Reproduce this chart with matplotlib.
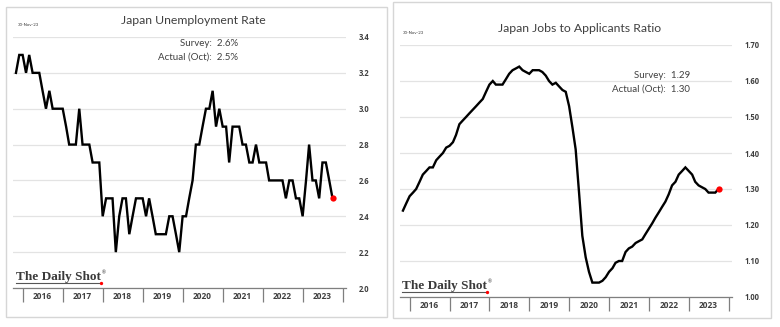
import matplotlib.pyplot as plt
import pandas as pd
from matplotlib.patches import Rectangle
from matplotlib.lines import Line2D

plt.rcParams['font.family'] = ['Lato', 'DejaVu Sans']

# monthly, Nov 2015 .. Oct 2023
months = pd.date_range("2015-11-01", "2023-10-01", freq="MS")

unemp = [3.2, 3.3, 3.3, 3.2, 3.3, 3.2, 3.2, 3.2, 3.1, 3.0,
         3.1, 3.0, 3.0, 3.0, 3.0, 2.9, 2.8, 2.8, 2.8, 3.0,
         2.8, 2.8, 2.8, 2.7, 2.7, 2.7, 2.4, 2.5, 2.5, 2.5,
         2.2, 2.4, 2.5, 2.5, 2.3, 2.4, 2.5, 2.5, 2.5, 2.4,
         2.5, 2.4, 2.3, 2.3, 2.3, 2.3, 2.4, 2.4, 2.3, 2.2,
         2.4, 2.4, 2.5, 2.6, 2.8, 2.8, 2.9, 3.0, 3.0, 3.1,
         2.9, 3.0, 2.9, 2.9, 2.7, 2.9, 2.9, 2.9, 2.8, 2.8,
         2.7, 2.7, 2.8, 2.7, 2.7, 2.7, 2.6, 2.6, 2.6, 2.6,
         2.6, 2.5, 2.6, 2.6, 2.5, 2.5, 2.4, 2.6, 2.8, 2.6,
         2.6, 2.5, 2.7, 2.7, 2.6, 2.5]

jobs = [1.24, 1.26, 1.28, 1.29, 1.30, 1.32, 1.34, 1.35, 1.36, 1.36,
        1.38, 1.39, 1.40, 1.415, 1.42, 1.43, 1.45, 1.48, 1.49, 1.50,
        1.51, 1.52, 1.53, 1.54, 1.55, 1.57, 1.59, 1.60, 1.59, 1.59,
        1.59, 1.605, 1.62, 1.63, 1.635, 1.64, 1.63, 1.625, 1.62, 1.63,
        1.63, 1.63, 1.625, 1.615, 1.60, 1.59, 1.595, 1.585, 1.575, 1.57,
        1.53, 1.47, 1.41, 1.29, 1.17, 1.11, 1.07, 1.04, 1.04, 1.04,
        1.045, 1.055, 1.07, 1.08, 1.095, 1.10, 1.10, 1.125, 1.135, 1.14,
        1.15, 1.155, 1.16, 1.175, 1.19, 1.205, 1.22, 1.235, 1.25, 1.265,
        1.285, 1.31, 1.32, 1.34, 1.35, 1.36, 1.35, 1.34, 1.32, 1.31,
        1.305, 1.30, 1.29, 1.29, 1.29, 1.30]

years = list(range(2016, 2024))

unemp_ticks = [2.0, 2.2, 2.4, 2.6, 2.8, 3.0, 3.2, 3.4]
jobs_ticks = [1.00, 1.10, 1.20, 1.30, 1.40, 1.50, 1.60, 1.70]

TXT = '#404040'
NUMFONT = ['Open Sans', 'DejaVu Sans']
W, H = 780, 327

fig = plt.figure(figsize=(7.8, 3.27), dpi=100)
renderer = fig.canvas.get_renderer()


def fr(x0, y0, x1, y1):
    # pixel box (top-left origin) -> figure fraction [l, b, w, h]
    return [x0 / W, 1 - y1 / H, (x1 - x0) / W, (y1 - y0) / H]


def logo(x, y):
    t = fig.text(x / W, 1 - y / H, "The Daily Shot", family=['Liberation Serif', 'DejaVu Serif'],
                 weight='bold', size=9.5, color='#3a3a3a', va='baseline')
    w = t.get_window_extent(renderer).width
    fig.text((x + w + 1) / W, 1 - (y - 6) / H, "®", size=3.5, color='#3a3a3a')
    fig.add_artist(Line2D([x / W, (x + w) / W], [1 - (y + 3) / H] * 2, lw=0.8, color='#555555'))
    fig.add_artist(Line2D([(x + w) / W], [1 - (y + 3) / H], marker='o', ms=2.4, color='red', mec='none'))


def panel(box, border, values, yticks, fmt, title, tpos, survey, spos, datepos, logopos):
    fig.add_artist(Rectangle((border[0] / W, 1 - border[3] / H),
                             (border[2] - border[0]) / W, (border[3] - border[1]) / H,
                             transform=fig.transFigure, fill=False, ec='#d6d6d6', lw=1))
    ax = fig.add_axes(fr(*box))
    ax.plot(months, values, color='black', lw=1.7, solid_joinstyle='miter')
    ax.plot(months[-1:], values[-1:], 'o', color='red', ms=4.5, mec='none')
    ax.set_ylim(yticks[0], yticks[-1])
    ax.set_xlim(pd.Timestamp("2015-10-05"), pd.Timestamp("2024-02-01"))
    ax.set_yticks(yticks)
    ax.set_yticklabels([fmt.format(v) for v in yticks], family=NUMFONT, weight='bold')
    ax.yaxis.tick_right()
    ax.tick_params(axis='y', length=0, pad=9, labelsize=5.5, labelcolor=TXT)
    ax.grid(axis='y', color='#e3e3e3', lw=0.9)
    ax.set_axisbelow(True)
    for s in ['top', 'left', 'right']:
        ax.spines[s].set_visible(False)
    ax.spines['bottom'].set_color('#7f7f7f')
    ax.spines['bottom'].set_linewidth(0.9)
    ax.set_xticks([pd.Timestamp(f"{y}-01-01") for y in years + [2024]])
    ax.set_xticklabels([])
    ax.tick_params(axis='x', which='major', length=10, width=0.9, color='#7f7f7f')
    ax.set_xticks([pd.Timestamp(f"{y}-07-01") for y in years], minor=True)
    ax.set_xticklabels([str(y) for y in years], minor=True, family=NUMFONT, weight='bold')
    ax.tick_params(axis='x', which='minor', length=0, pad=3, labelsize=6, labelcolor=TXT)

    fig.text(tpos[0] / W, 1 - tpos[1] / H, title, ha='center', va='center', size=8.8, color=TXT)
    fig.text(spos[0] / W, 1 - spos[1] / H, "Survey:  " + survey[0], ha='right', va='center',
             size=7, color=TXT)
    fig.text(spos[0] / W, 1 - (spos[1] + 14) / H, "Actual (Oct):  " + survey[1], ha='right',
             va='center', size=7, color=TXT)
    fig.text(datepos[0] / W, 1 - datepos[1] / H, "30-Nov-23", ha='left', va='center',
             size=3.2, color=TXT)
    logo(*logopos)
    return ax


panel((13, 37, 346, 288), (6, 7, 387, 317), unemp, unemp_ticks, "{:.1f}",
      "Japan Unemployment Rate", (193, 20), ("2.6%", "2.5%"), (238, 43), (18, 25), (16, 280))
panel((400, 45, 732, 297), (393, 2, 771, 318), jobs, jobs_ticks, "{:.2f}",
      "Japan Jobs to Applicants Ratio", (580, 28), ("1.29", "1.30"), (690, 75), (403, 33), (402, 289))

fig.savefig("out.png", dpi=100)
